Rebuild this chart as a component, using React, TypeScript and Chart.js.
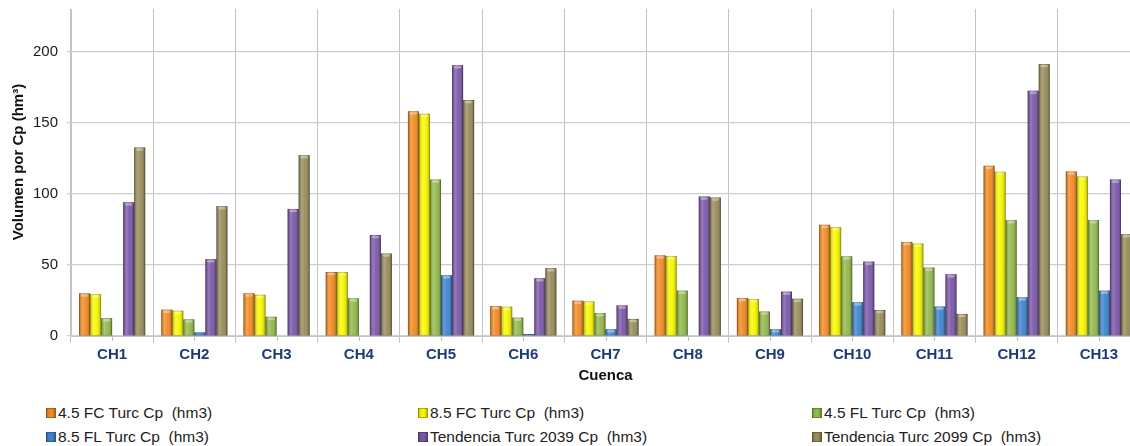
import React, { useEffect, useRef } from "react";
import { Chart, registerables } from "chart.js";

Chart.register(...registerables);

const categories = ["CH1", "CH2", "CH3", "CH4", "CH5", "CH6", "CH7", "CH8", "CH9", "CH10", "CH11", "CH12", "CH13"];
const fc45 = [30, 18.5, 30, 45, 158, 21, 24.8, 56.7, 26.7, 78.2, 66.2, 119.7, 115.7];
const fc85 = [29.4, 17.8, 29, 45, 156.3, 20.6, 24.3, 56.2, 26, 76.5, 65, 115.5, 112.2];
const fl45 = [12.5, 11.7, 13.5, 26.5, 110, 12.9, 16.1, 31.9, 17.2, 56, 48.1, 81.5, 81.5];
const fl85 = [0, 2.5, 0, 0, 42.7, 1.4, 4.7, 0, 4.7, 23.7, 20.7, 27.2, 31.9];
const t2039 = [94, 54, 89.4, 71, 190.4, 40.6, 21.5, 98.1, 31.2, 52.3, 43.4, 172.5, 110];
const t2099 = [132.6, 91.3, 127.2, 58, 166, 47.7, 12, 97.4, 26.2, 18.3, 15.5, 191.3, 71.6];
const yTicks = [0, 50, 100, 150, 200];
const yTitle = "Volumen por Cp (hm³)";
const xTitle = "Cuenca";
const seriesLabels = [
  "4.5 FC Turc Cp  (hm3)",
  "8.5 FC Turc Cp  (hm3)",
  "4.5 FL Turc Cp  (hm3)",
  "8.5 FL Turc Cp  (hm3)",
  "Tendencia Turc 2039 Cp  (hm3)",
  "Tendencia Turc 2099 Cp  (hm3)",
];
const seriesColors = ["#f28a22", "#f8f800", "#92b94a", "#3d84d0", "#7b56a8", "#978c59"];
const seriesData = [fc45, fc85, fl45, fl85, t2039, t2099];

const FONT = "'Liberation Sans', Arial, Helvetica, sans-serif";

const shadePlugin = {
  id: "shade",
  afterDatasetsDraw(chart: any) {
    const ctx = chart.ctx;
    ctx.save();
    chart.data.datasets.forEach((_ds: any, i: number) => {
      const meta = chart.getDatasetMeta(i);
      meta.data.forEach((bar: any) => {
        const { x, y, base, width } = bar.getProps(["x", "y", "base", "width"], true);
        const h = base - y;
        if (!(h > 0.5)) return;
        const l = x - width / 2;
        const g = ctx.createLinearGradient(l, 0, l + width, 0);
        g.addColorStop(0, "rgba(0,0,0,0.22)");
        g.addColorStop(0.3, "rgba(255,255,255,0.22)");
        g.addColorStop(0.55, "rgba(255,255,255,0.05)");
        g.addColorStop(1, "rgba(0,0,0,0.3)");
        ctx.fillStyle = g;
        ctx.fillRect(l, y, width, h);
        ctx.strokeStyle = "rgba(0,0,0,0.25)";
        ctx.lineWidth = 0.8;
        ctx.strokeRect(l + 0.4, y + 0.4, width - 0.8, h - 0.4);
        if (h > 4) {
          ctx.fillStyle = "rgba(255,255,255,0.35)";
          ctx.beginPath();
          ctx.ellipse(x, y + 1.8, width / 2 - 1.5, 1.6, 0, 0, Math.PI * 2);
          ctx.fill();
        }
      });
    });
    // minor ticks at category centres
    const xs = chart.scales.x;
    const bottom = chart.chartArea.bottom;
    ctx.strokeStyle = "#bdbdbd";
    ctx.lineWidth = 1;
    categories.forEach((_c, i) => {
      const px = Math.round(xs.getPixelForValue(i)) + 0.5;
      ctx.beginPath();
      ctx.moveTo(px, bottom);
      ctx.lineTo(px, bottom + 5);
      ctx.stroke();
    });
    // y axis title
    ctx.translate(19, 162);
    ctx.rotate(-Math.PI / 2);
    ctx.font = `bold 15px ${FONT}`;
    ctx.fillStyle = "#111";
    ctx.textAlign = "center";
    ctx.textBaseline = "middle";
    ctx.fillText(yTitle, 0, 0);
    ctx.restore();
  },
};

export default function App() {
  const ref = useRef<HTMLCanvasElement | null>(null);

  useEffect(() => {
    if (!ref.current) return;
    const chart = new Chart(ref.current, {
      type: "bar",
      data: {
        labels: categories,
        datasets: seriesData.map((d, i) => ({
          label: seriesLabels[i],
          data: d,
          backgroundColor: seriesColors[i],
          borderWidth: 0,
          categoryPercentage: 0.805,
          barPercentage: 1,
        })),
      },
      options: {
        animation: false,
        responsive: true,
        maintainAspectRatio: false,
        layout: { padding: { top: 9, right: 10, left: 0, bottom: 0 } },
        plugins: {
          legend: { display: false },
          tooltip: { enabled: false },
        },
        scales: {
          x: {
            grid: {
              offset: true,
              color: "#c4c4c4",
              lineWidth: 1,
              tickLength: 7,
              drawTicks: true,
            },
            border: { display: true, color: "#c4c4c4" },
            ticks: {
              color: "#1d3a78",
              font: { family: FONT, size: 15, weight: "bold" },
              padding: 3,
              maxRotation: 0,
              autoSkip: false,
            },
            title: {
              display: true,
              text: xTitle,
              color: "#111",
              font: { family: FONT, size: 15, weight: "bold" },
              padding: { top: 0, bottom: 7 },
            },
            afterFit: (scale: any) => {
              scale.height = 56;
              scale.paddingLeft = 0;
              scale.paddingRight = 0;
            },
          },
          y: {
            min: 0,
            max: 230,
            afterBuildTicks: (scale: any) => {
              scale.ticks = yTicks.map((v) => ({ value: v }));
            },
            grid: {
              color: "#cfcfcf",
              lineWidth: 1.3,
              tickLength: 4,
            },
            border: { display: true, color: "#c4c4c4" },
            ticks: {
              color: "#1a1a1a",
              font: { family: FONT, size: 15 },
              padding: 9,
            },
            title: { display: false },
            afterFit: (scale: any) => {
              scale.width = 71;
              scale.paddingTop = 0;
              scale.paddingBottom = 0;
            },
          },
        },
      },
      plugins: [shadePlugin],
    } as any);
    return () => chart.destroy();
  }, []);

  const legendCols = [46, 418, 812];
  const legendRows = [413, 437];

  return (
    <div
      style={{
        position: "fixed",
        left: 0,
        top: 0,
        width: 1130,
        height: 446,
        overflow: "hidden",
        background: "#fff",
      }}
    >
      <div style={{ position: "absolute", left: 0, top: 0, width: 1150, height: 392 }}>
        <canvas ref={ref} />
      </div>
      {seriesLabels.map((lab, i) => {
        const col = i % 3;
        const row = Math.floor(i / 3);
        return (
          <div
            key={lab}
            style={{
              position: "absolute",
              left: legendCols[col],
              top: legendRows[row] - 10,
              height: 20,
              display: "flex",
              alignItems: "center",
              fontFamily: FONT,
              fontSize: 15.5,
              color: "#222",
              whiteSpace: "pre",
            }}
          >
            <span
              style={{
                display: "inline-block",
                width: 8,
                height: 8,
                marginRight: 2,
                background: `linear-gradient(90deg, rgba(0,0,0,0.15), ${seriesColors[i]} 35%, ${seriesColors[i]} 65%, rgba(0,0,0,0.25))`,
                backgroundColor: seriesColors[i],
                border: "0.5px solid rgba(0,0,0,0.25)",
              }}
            />
            <span>{lab}</span>
          </div>
        );
      })}
    </div>
  );
}
